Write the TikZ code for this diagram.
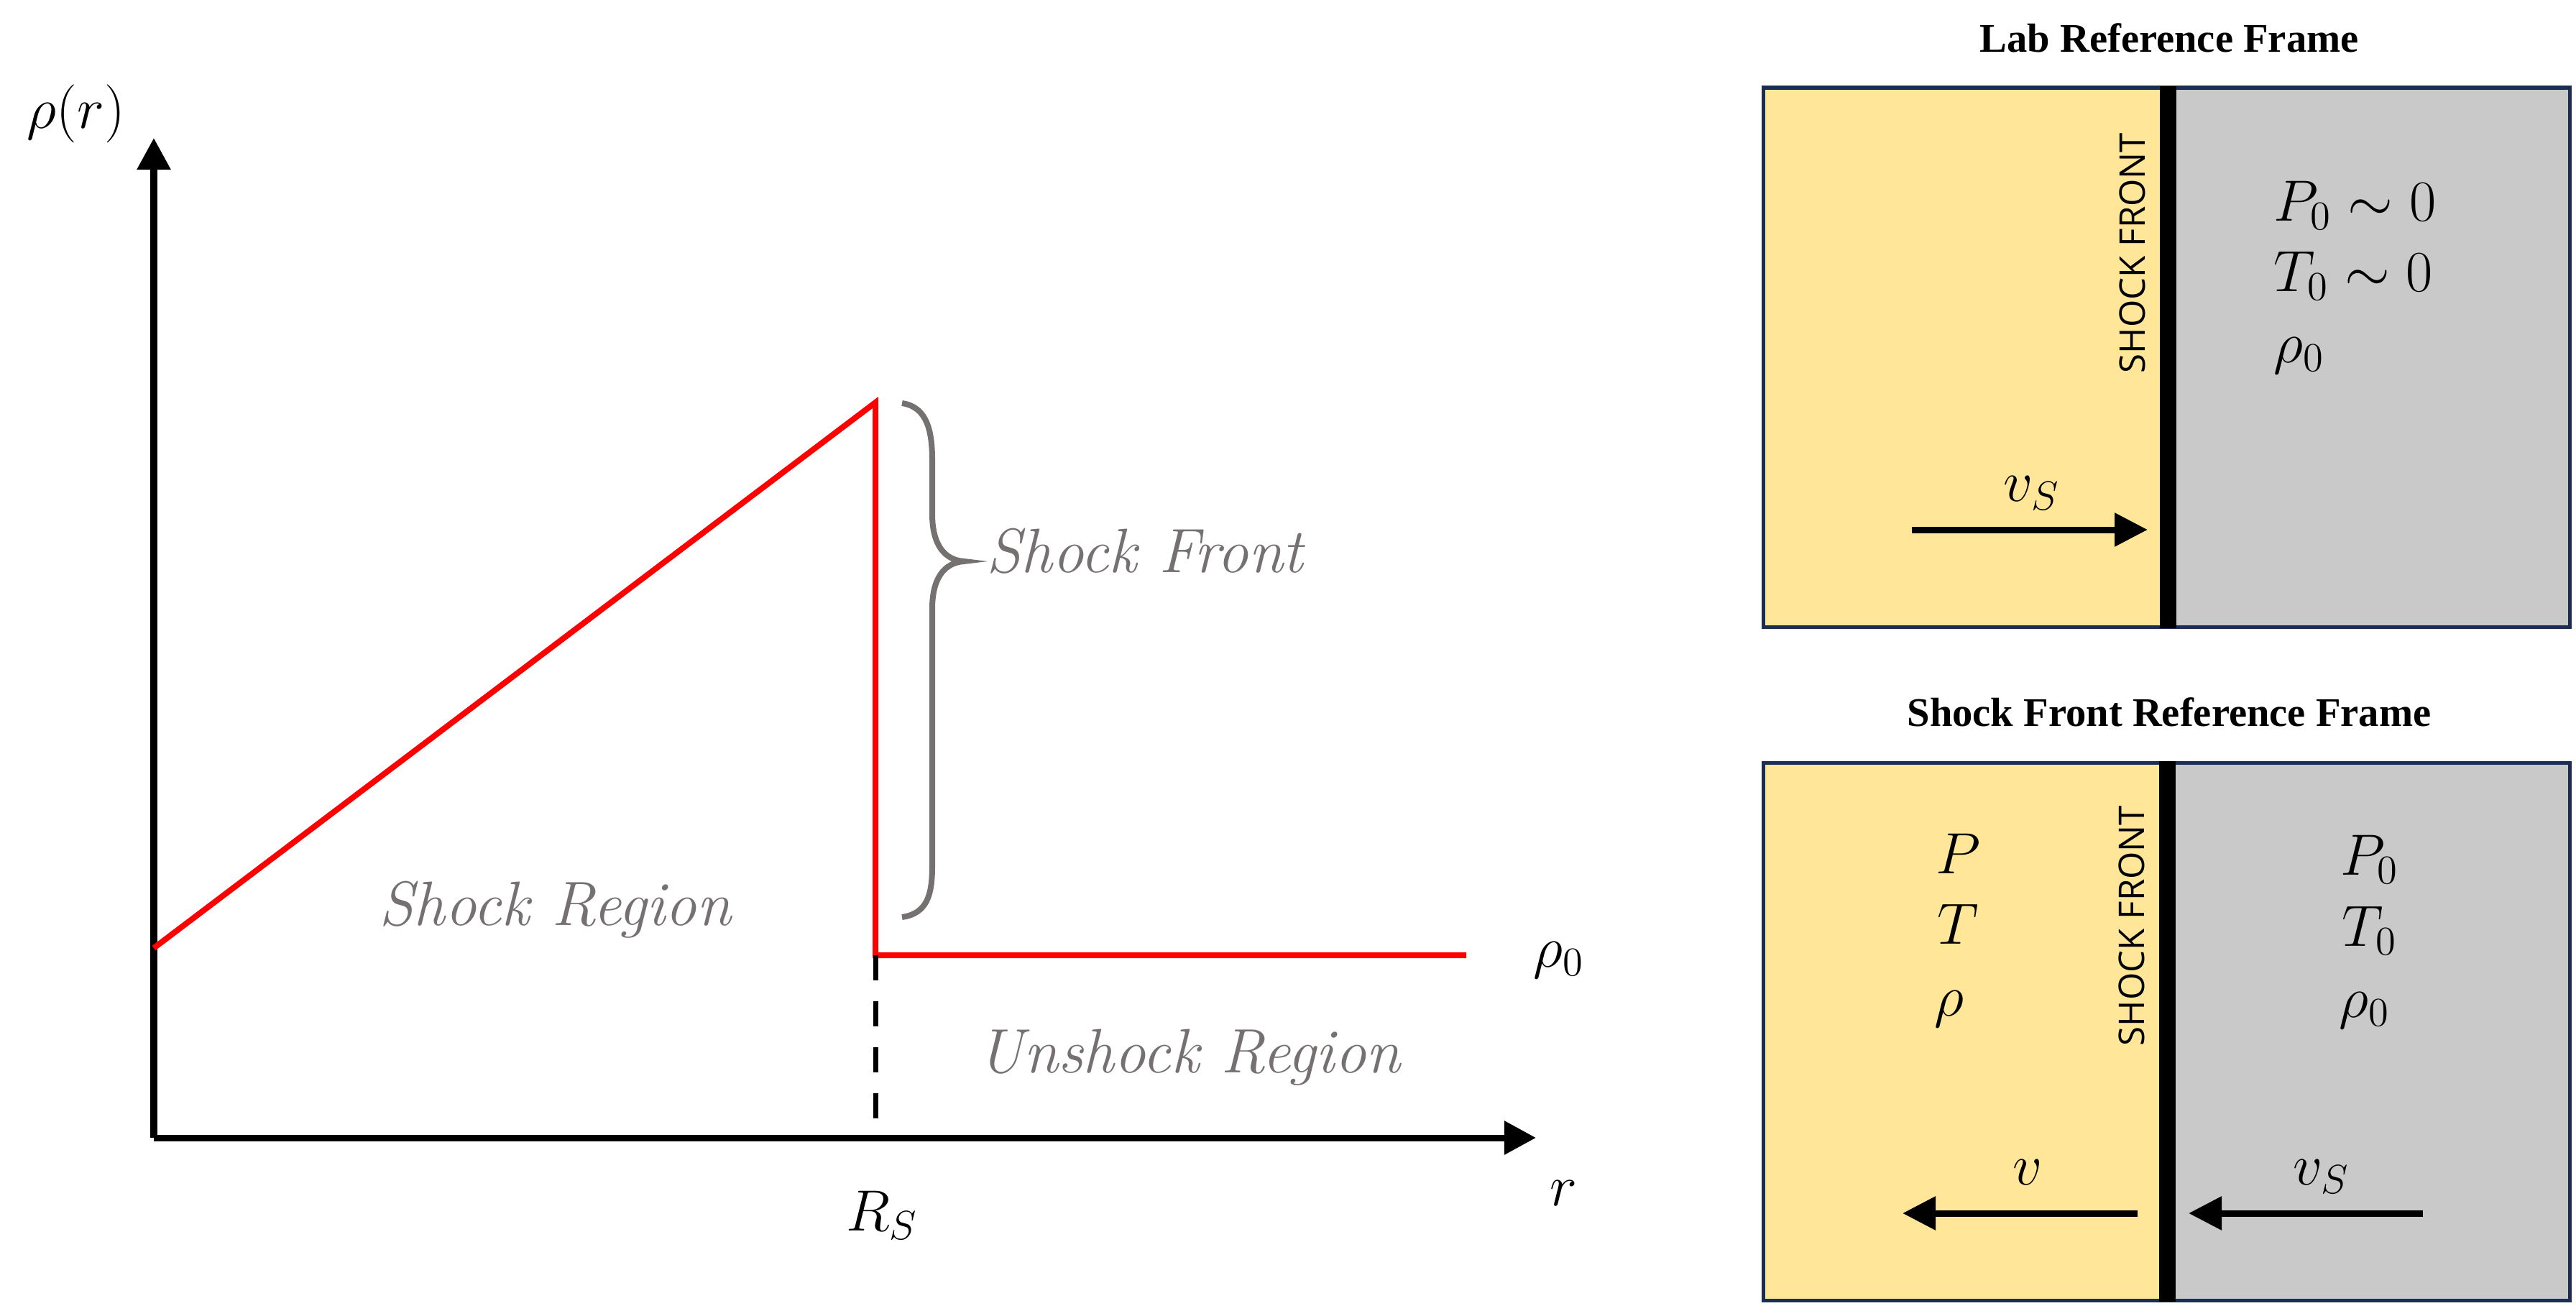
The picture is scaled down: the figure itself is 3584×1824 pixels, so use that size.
\RequirePackage{fix-cm}
\documentclass[tikz,border=0pt]{standalone}
\usepackage{fontspec}
\newfontfamily\sansf{Open Sans}
\newfontfamily\titlef{Liberation Serif}
\usetikzlibrary{arrows.meta}
\definecolor{boxyellow}{HTML}{FFE699}
\definecolor{boxgray}{HTML}{C9C9C9}
\definecolor{boxnavy}{HTML}{1B2E52}
\definecolor{labgray}{HTML}{767171}
\begin{document}
\begin{tikzpicture}[x=0.01cm,y=-0.01cm,
  axis/.style={line width=0.09cm,-{Triangle[length=0.44cm,width=0.45cm]}},
  flowarrow/.style={line width=0.09cm,-{Triangle[length=0.46cm,width=0.45cm]}},
  density/.style={red,line width=0.08cm},
  bracepath/.style={labgray,line width=0.08cm},
  mathlbl/.style={inner sep=0,font=\fontsize{23}{28}\selectfont},
  greylbl/.style={inner sep=0,text=labgray,font=\fontsize{24.8}{30}\selectfont\itshape},
  titlelbl/.style={inner sep=0,font=\fontsize{16.1}{20}\selectfont\titlef\bfseries},
  frontlbl/.style={inner sep=0,rotate=90,font=\fontsize{14}{17}\selectfont\sansf},
  panel/.style={draw=boxnavy,line width=0.05cm}]
\useasboundingbox (0,0) rectangle (3584,1824);

% ---------- left plot ----------
\coordinate (origin) at (214,1583);
\coordinate (ytip) at (214,192);
\coordinate (xtip) at (2137,1583);
\coordinate (start) at (214,1319);
\coordinate (peak) at (1218,560);
\coordinate (foot) at (1218,1329);
\coordinate (tail) at (2040,1329);
\coordinate (rsbase) at (1218,1556);

\draw[axis] (origin) -- (ytip);
\draw[axis] (origin) -- (xtip);
\draw[density] (start) -- (peak) -- (foot) -- (tail);
\draw[line width=0.07cm,dash pattern=on 0.35cm off 0.29cm] (foot) -- (rsbase);

\draw[bracepath] (1255,561) .. controls (1290,566) and (1297,600) .. (1297,640)
  -- (1297,715) .. controls (1297,758) and (1314,779) .. (1341,781)
  .. controls (1314,783) and (1297,804) .. (1297,847)
  -- (1297,1205) .. controls (1297,1245) and (1290,1271) .. (1255,1276);

\node[mathlbl,anchor=base west] (rholbl) at (37,178) {$\rho(r)$};
\node[mathlbl,anchor=base west] (rlbl) at (2156,1677) {$r$};
\node[mathlbl,anchor=base west] (rslbl) at (1177,1712) {$R_S$};
\node[mathlbl,anchor=base west] (rho0lbl) at (2133,1345) {$\rho_0$};
\node[greylbl,anchor=base west] (frontlbl) at (1372,796) {Shock Front};
\node[greylbl,anchor=base west] (shreg) at (527,1287) {Shock Region};
\node[greylbl,anchor=base west] (unreg) at (1360,1492) {Unshock Region};

% ---------- top panel ----------
\node[titlelbl,anchor=base] (labtitle) at (3018,72) {Lab Reference Frame};
\fill[boxyellow] (2453,122) rectangle (3016,872);
\fill[boxgray] (3016,122) rectangle (3575,872);
\draw[panel] (2453,122) rectangle (3575,872);
\fill[black] (3005,120) rectangle (3028,874);
\node[frontlbl] (front1) at (2967,352) {SHOCK FRONT};
\node[mathlbl,anchor=base west] (p0a) at (3163,307) {$P_0\sim 0$};
\node[mathlbl,anchor=base west] (t0a) at (3163,405) {$T_0\sim 0$};
\node[mathlbl,anchor=base west] (r0a) at (3163,504) {$\rho_0$};
\coordinate (vsa1) at (2660,737);
\coordinate (vsa2) at (2988,737);
\draw[flowarrow] (vsa1) -- (vsa2);
\node[mathlbl,anchor=base west] (vsalbl) at (2787,697) {$v_S$};

% ---------- bottom panel ----------
\node[titlelbl,anchor=base] (sftitle) at (3018,1010) {Shock Front Reference Frame};
\fill[boxyellow] (2453,1061) rectangle (3016,1809);
\fill[boxgray] (3016,1061) rectangle (3575,1809);
\draw[panel] (2453,1061) rectangle (3575,1809);
\fill[black] (3004,1059) rectangle (3027,1811);
\node[frontlbl] (front2) at (2966,1288) {SHOCK FRONT};
\node[mathlbl,anchor=base west] (pb) at (2693,1215) {$P$};
\node[mathlbl,anchor=base west] (tb) at (2695,1313) {$T$};
\node[mathlbl,anchor=base west] (rb) at (2691,1413) {$\rho$};
\node[mathlbl,anchor=base west] (p0b) at (3256,1217) {$P_0$};
\node[mathlbl,anchor=base west] (t0b) at (3258,1316) {$T_0$};
\node[mathlbl,anchor=base west] (r0b) at (3254,1415) {$\rho_0$};
\coordinate (va1) at (2974,1688);
\coordinate (va2) at (2647,1688);
\draw[flowarrow] (va1) -- (va2);
\node[mathlbl,anchor=base west] (valbl) at (2800,1648) {$v$};
\coordinate (vsb1) at (3371,1688);
\coordinate (vsb2) at (3045,1688);
\draw[flowarrow] (vsb1) -- (vsb2);
\node[mathlbl,anchor=base west] (vsblbl) at (3190,1648) {$v_S$};
\end{tikzpicture}
\end{document}
